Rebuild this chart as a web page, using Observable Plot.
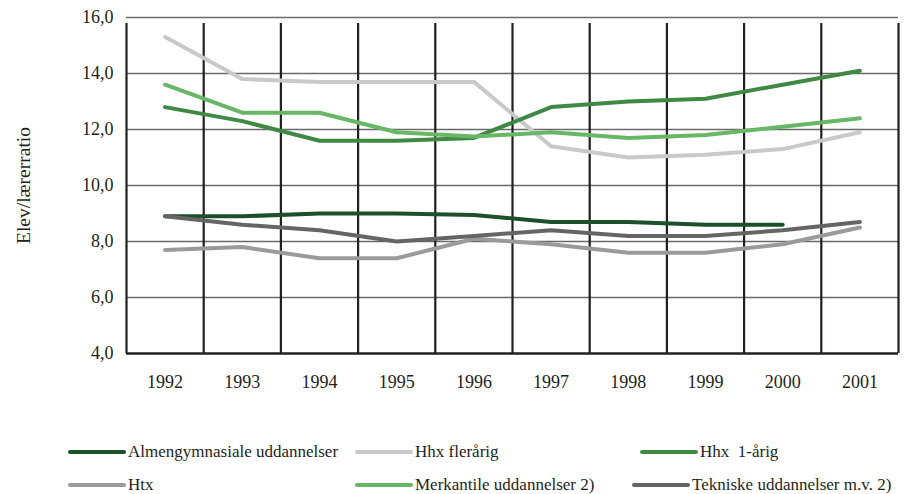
<!DOCTYPE html>
<html><head><meta charset="utf-8">
<script src="https://cdn.jsdelivr.net/npm/d3@7"></script>
<script src="https://cdn.jsdelivr.net/npm/@observablehq/plot@0.6"></script>
</head>
<body style="margin:0;padding:0;background:#fff;font-family:'Liberation Serif'">
<div id="wrap" style="position:relative;width:910px;height:494px;font-family:'Liberation Serif'"></div>
<script>
const years = [1992,1993,1994,1995,1996,1997,1998,1999,2000,2001];
const seriesNames = ["Almengymnasiale uddannelser","Hhx flerårig","Hhx  1-årig","Htx","Merkantile uddannelser 2)","Tekniske uddannelser m.v. 2)"];
const colors = ["#1d4f2b","#c9c9c9","#3f8944","#9a9a9c","#67b767","#656567"];
const almen      = [8.9, 8.9, 9.0, 9.0, 8.95, 8.7, 8.7, 8.6, 8.6, null];
const hhxFler    = [15.3, 13.8, 13.7, 13.7, 13.7, 11.4, 11.0, 11.1, 11.3, 11.9];
const hhx1       = [12.8, 12.3, 11.6, 11.6, 11.7, 12.8, 13.0, 13.1, 13.6, 14.1];
const htx        = [7.7, 7.8, 7.4, 7.4, 8.1, 7.9, 7.6, 7.6, 7.9, 8.5];
const merkantile = [13.6, 12.6, 12.6, 11.9, 11.75, 11.9, 11.7, 11.8, 12.1, 12.4];
const tekniske   = [8.9, 8.6, 8.4, 8.0, 8.2, 8.4, 8.2, 8.2, 8.4, 8.7];
const yTicks = [4,6,8,10,12,14,16];
const yLabel = "Elev/lærerratio";

const FONT = "'Liberation Serif'";
const allSeries = [almen, hhxFler, hhx1, htx, merkantile, tekniske];
const data = allSeries.flatMap((vals, i) => vals.map((v, j) => ({series: seriesNames[i], year: years[j], value: v})).filter(d => d.value != null));
const boundaries = years.map(y => y - 0.5).concat([years[years.length-1] + 0.5]);

const plot = Plot.plot({
  width: 910, height: 420,
  marginLeft: 126, marginRight: 12, marginTop: 17, marginBottom: 67,
  style: {fontFamily: FONT, fontSize: "18px", color: "#231f20", background: "#fff"},
  x: {domain: [boundaries[0], boundaries[boundaries.length-1]]},
  y: {domain: [4, 16]},
  color: {domain: seriesNames, range: colors},
  marks: [
    Plot.ruleY(yTicks.filter(t => t > 4), {stroke: "#6a6a6a", strokeWidth: 1.3}),
    Plot.ruleX(boundaries, {y1: 4, y2: 16, insetBottom: -6, stroke: "#231f20", strokeWidth: 2.2}),
    Plot.ruleY([4], {stroke: "#231f20", strokeWidth: 2.5}),
    Plot.axisY({ticks: yTicks, tickSize: 0, tickPadding: 13, fontSize: 18, tickFormat: d => d.toFixed(1).replace(".", ","), label: null}),
    Plot.axisY({ticks: [], tickSize: 0, fontSize: 19.5, label: yLabel, labelAnchor: "center", labelArrow: "none", labelOffset: 110}),
    Plot.axisX({ticks: years, tickSize: 0, tickPadding: 22, fontSize: 18, tickFormat: d => String(d), label: null}),
    Plot.line(data, {x: "year", y: "value", z: "series", stroke: "series", strokeWidth: 4, strokeLinecap: "round", strokeLinejoin: "round"})
  ]
});
plot.querySelectorAll("text, g").forEach(el => el.setAttribute("font-family", FONT));
plot.querySelectorAll("text").forEach(el => el.style.fontFamily = FONT);
const wrap = document.getElementById("wrap");
wrap.appendChild(plot);

// legend built from series arrays
const legPos = [[68,452],[355,452],[640,452],[68,485],[355,485],[632,485]];
seriesNames.forEach((name, i) => {
  const d = document.createElement("div");
  d.style.cssText = "position:absolute;display:flex;align-items:center;font-size:17px;line-height:16px;height:16px;color:#231f20;white-space:pre;";
  d.style.fontFamily = FONT;
  d.style.left = legPos[i][0] + "px";
  d.style.top = (legPos[i][1] - 8) + "px";
  const s = document.createElement("span");
  s.style.cssText = "display:inline-block;width:58px;height:4px;border-radius:2px;margin-right:2px;";
  s.style.background = colors[i];
  d.appendChild(s);
  const t = document.createElement("span");
  t.style.fontFamily = FONT;
  t.textContent = name;
  d.appendChild(t);
  wrap.appendChild(d);
});
</script></body></html>
